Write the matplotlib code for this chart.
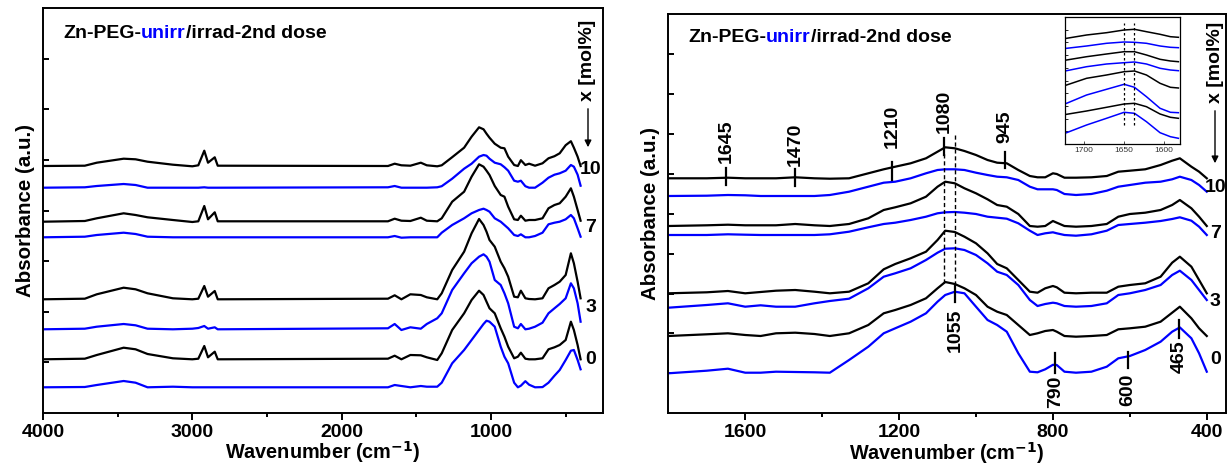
import numpy as np
import matplotlib
matplotlib.use("Agg")
import matplotlib.pyplot as plt

plt.rcParams['font.family'] = ['Liberation Sans', 'DejaVu Sans']
plt.rcParams['font.weight'] = 'bold'

# ---------------- Left panel data (wavenumber grid, offset absorbance a.u.) ----------------
wn_left = [4000, 3720, 3640, 3460, 3380, 3300, 3130, 3000, 2960, 2920, 2895, 2850, 2830,
           1690, 1645, 1600, 1540, 1470, 1430, 1360, 1330, 1260, 1180, 1130, 1080, 1050,
           1030, 1010, 975, 935, 910, 885, 845, 820, 800, 770, 745, 705, 655, 615, 575,
           540, 500, 465, 445, 420, 400]

irr10_L = [246.7, 247.0, 250.0, 254.0, 253.4, 251.0, 248.0, 246.4, 247.4, 262.0, 250.0, 255.4, 247.0,
           246.7, 249.0, 247.4, 247.0, 250.0, 247.4, 246.4, 247.4, 255.5, 265.0, 276.0, 285.4, 283.4,
           279.0, 275.0, 269.0, 265.0, 264.4, 256.0, 247.7, 246.7, 252.5, 247.7, 249.0, 247.0, 249.4, 254.4, 256.5,
           259.4, 267.5, 271.5, 265.0, 256.0, 246.7]
unirr10_L = [225.0, 225.4, 226.7, 228.7, 227.7, 225.0, 225.0, 225.0, 225.0, 225.4, 225.0, 225.0, 225.0,
             225.4, 226.7, 225.0, 225.0, 225.0, 225.0, 225.4, 226.5, 234.0, 244.0, 249.0, 256.0, 257.7,
             257.0, 254.0, 250.0, 248.4, 245.5, 242.0, 232.0, 231.0, 232.0, 226.5, 225.0, 225.0, 230.0, 235.0, 238.0,
             239.4, 242.0, 247.7, 246.0, 238.0, 227.0]
irr7_L = [191.0, 191.7, 194.4, 199.4, 197.7, 195.4, 192.7, 190.7, 191.4, 206.7, 193.4, 200.4, 191.4,
          191.4, 194.0, 192.0, 191.7, 195.0, 192.0, 191.4, 194.4, 211.0, 221.0, 236.0, 248.4, 246.0,
          242.0, 237.7, 226.7, 217.7, 216.0, 206.0, 193.4, 192.7, 197.0, 192.0, 192.7, 192.7, 194.4, 204.4, 207.7,
          209.4, 216.0, 224.4, 216.0, 202.7, 192.0]
unirr7_L = [175.4, 176.0, 177.7, 180.0, 178.7, 176.0, 175.4, 175.4, 175.4, 175.4, 175.4, 175.4, 175.4,
            175.4, 176.7, 175.0, 175.4, 175.4, 175.4, 175.4, 180.0, 187.7, 194.4, 199.4, 202.7, 204.0,
            202.7, 201.0, 194.4, 191.0, 187.7, 184.4, 177.7, 176.7, 178.4, 175.4, 175.4, 176.7, 180.0, 188.4, 190.0,
            191.0, 193.4, 197.7, 194.4, 184.4, 176.0]
irr3_L = [113.4, 114.0, 118.4, 125.0, 123.4, 119.4, 114.4, 113.4, 114.0, 126.7, 116.0, 121.7, 113.4,
          114.0, 117.4, 113.4, 118.4, 117.7, 115.4, 113.4, 119.4, 142.7, 161.0, 179.4, 193.7, 187.7,
          181.0, 172.7, 166.0, 151.0, 144.4, 136.0, 116.0, 115.4, 122.0, 114.4, 113.7, 113.4, 114.4, 124.4, 127.7,
          131.0, 137.7, 159.4, 149.4, 131.0, 114.4]
unirr3_L = [83.4, 84.0, 86.0, 88.7, 87.4, 84.0, 83.4, 84.0, 84.7, 86.7, 84.0, 85.4, 83.4,
            84.4, 88.7, 82.7, 85.4, 84.0, 88.7, 94.4, 99.4, 122.7, 139.4, 149.4, 156.0, 158.4,
            156.0, 151.0, 132.7, 127.7, 119.4, 109.4, 86.0, 84.4, 88.7, 83.4, 84.0, 86.0, 90.0, 99.4, 104.4,
            108.7, 114.4, 129.4, 124.4, 109.4, 91.0]
irr0_L = [53.4, 54.0, 57.7, 65.0, 63.4, 58.7, 54.4, 53.4, 54.0, 66.7, 55.4, 61.0, 53.4,
          54.0, 57.0, 53.4, 57.7, 57.4, 55.4, 52.7, 59.4, 82.7, 99.4, 112.7, 122.0, 117.7,
          111.0, 104.4, 99.4, 84.4, 76.0, 66.0, 54.4, 56.0, 60.0, 54.0, 53.4, 53.4, 54.4, 63.4, 65.4,
          67.7, 72.7, 91.0, 82.7, 67.7, 53.4]
unirr0_L = [25.4, 25.7, 27.7, 31.7, 30.0, 25.4, 26.0, 25.4, 25.4, 25.4, 25.4, 25.4, 25.4,
            25.4, 27.7, 26.7, 25.4, 26.7, 26.0, 26.0, 30.0, 49.4, 62.7, 72.7, 82.7, 88.7,
            92.0, 91.0, 86.0, 66.0, 56.0, 49.4, 30.0, 25.4, 27.0, 31.5, 28.0, 25.4, 25.6, 30.0, 37.0,
            42.7, 52.7, 62.0, 62.7, 52.7, 43.4]

# ---------------- Right panel data ----------------
wn_right = [1800, 1700, 1645, 1600, 1560, 1520, 1470, 1420, 1380, 1330, 1280, 1240, 1210, 1170,
            1130, 1100, 1080, 1055, 1030, 1000, 970, 945, 920, 890, 860, 840, 820, 800, 790,
            770, 740, 700, 660, 630, 600, 560, 520, 490, 470, 440, 420, 400]

irr10_R = [235.0, 235.0, 235.6, 235.0, 235.0, 235.0, 236.0, 235.0, 234.6, 235.0, 240.0, 244.0, 246.6, 250.0,
           255.0, 261.6, 266.0, 265.0, 262.3, 258.3, 253.3, 250.6, 250.0, 243.3, 237.3, 236.0, 236.0, 240.0, 239.3,
           235.6, 235.6, 236.0, 237.3, 241.6, 242.6, 244.0, 248.3, 252.6, 255.0, 246.6, 241.6, 235.0]
unirr10_R = [217.3, 217.6, 218.3, 218.0, 217.3, 217.3, 217.3, 217.3, 218.3, 221.6, 226.6, 230.6, 231.6, 235.0,
             240.0, 243.3, 244.0, 244.0, 243.3, 240.6, 238.3, 236.6, 236.0, 233.3, 226.6, 224.0, 224.0, 224.0, 223.3,
             219.3, 218.3, 219.3, 222.6, 226.6, 228.3, 230.6, 231.6, 234.0, 236.6, 233.3, 228.3, 221.6]
irr7_R = [187.3, 188.0, 188.6, 188.0, 188.0, 188.0, 189.3, 188.0, 187.3, 189.3, 195.0, 203.3, 206.0, 210.0,
          216.6, 226.6, 231.6, 230.0, 225.0, 220.0, 214.0, 208.3, 206.6, 199.3, 187.3, 186.6, 187.3, 192.3, 190.6,
          187.3, 186.6, 187.3, 189.3, 196.6, 199.3, 200.6, 203.3, 208.3, 213.3, 205.0, 196.6, 187.3]
unirr7_R = [178.3, 178.3, 179.0, 178.6, 178.3, 178.3, 178.3, 178.3, 179.0, 181.6, 186.0, 189.3, 190.6, 193.3,
            196.6, 200.0, 201.0, 201.3, 200.6, 199.3, 196.6, 195.6, 194.6, 190.0, 182.6, 178.3, 180.0, 181.0, 180.0,
            178.3, 177.6, 179.0, 182.6, 188.3, 189.3, 190.6, 192.3, 194.3, 196.0, 192.6, 186.6, 178.3]
irr3_R = [120.0, 121.0, 122.3, 120.0, 121.3, 122.6, 123.3, 121.6, 120.0, 121.6, 130.0, 144.0, 149.3, 155.0,
          161.6, 173.3, 182.6, 181.3, 176.6, 170.0, 160.0, 149.3, 145.0, 133.3, 121.6, 120.6, 125.0, 127.3, 126.0,
          120.6, 120.0, 120.6, 120.6, 126.6, 128.3, 130.0, 136.6, 150.6, 156.6, 146.6, 133.3, 120.0]
unirr3_R = [105.6, 108.3, 110.0, 106.6, 108.0, 106.6, 106.6, 110.0, 112.3, 114.6, 125.0, 136.6, 140.0, 145.0,
            153.3, 160.6, 164.6, 165.0, 163.3, 158.3, 150.0, 141.6, 138.3, 128.3, 113.3, 107.3, 109.3, 110.6, 110.0,
            107.3, 106.6, 107.3, 110.0, 118.3, 120.0, 123.3, 128.3, 138.3, 142.6, 133.3, 123.3, 113.3]
irr0_R = [77.3, 79.0, 80.0, 78.3, 77.3, 80.0, 80.6, 79.3, 77.3, 80.0, 88.3, 100.0, 103.3, 108.3,
          115.0, 125.0, 131.3, 129.3, 125.0, 118.3, 106.6, 101.6, 98.3, 88.3, 78.3, 80.0, 82.3, 83.3, 81.6,
          77.3, 76.6, 77.3, 78.3, 84.0, 85.0, 86.6, 91.6, 100.6, 106.6, 95.0, 85.0, 77.3]
unirr0_R = [40.0, 42.6, 44.6, 40.6, 40.6, 41.6, 41.3, 41.0, 40.6, 53.3, 66.6, 80.0, 85.0, 91.6,
            100.0, 111.6, 118.3, 121.6, 120.0, 106.6, 93.3, 88.3, 81.6, 60.0, 41.6, 41.0, 44.0, 48.5, 48.3,
            41.6, 40.6, 41.6, 46.6, 55.0, 57.3, 63.3, 71.6, 81.6, 85.9, 75.0, 60.0, 41.6]

# ---------------- Inset data (1725-1580 cm-1 zoom) ----------------
wn_inset = [1722, 1697, 1672, 1650, 1637, 1622, 1605, 1592, 1582]
inset_curves = [
    ("k", [105.7, 109.0, 111.3, 114.0, 114.7, 112.3, 109.7, 107.3, 106.7]),
    ("b", [95.7, 98.0, 100.7, 102.0, 101.7, 100.7, 98.0, 96.7, 96.3]),
    ("k", [84.0, 87.3, 90.0, 92.3, 92.3, 89.0, 84.7, 83.0, 82.3]),
    ("b", [73.3, 77.3, 80.0, 81.3, 82.0, 80.0, 75.7, 74.0, 73.3]),
    ("k", [59.0, 65.7, 69.0, 72.3, 73.0, 69.0, 60.7, 56.7, 56.0]),
    ("b", [40.7, 49.0, 54.7, 59.7, 56.7, 47.3, 35.7, 31.7, 31.3]),
    ("k", [29.7, 33.0, 36.7, 40.0, 40.7, 37.3, 30.0, 26.7, 25.7]),
    ("b", [11.3, 19.0, 25.7, 31.7, 30.7, 22.3, 11.3, 7.3, 5.7]),
]

doses = ["10", "7", "3", "0"]
left_label_y = [242.7, 185.7, 105.7, 52.7]
right_label_y = [225.3, 180.3, 111.3, 53.3]

# peak markers on right panel: (label, position, y0, y1, text anchor y, above?)
peak_marks = [("1645", 1650, 228, 245, 250, True),
              ("1470", 1470, 227, 244, 247, True),
              ("1210", 1218, 233, 251, 265, True),
              ("1080", 1083, 258, 275, 280, True),
              ("945", 925, 245, 261, 270, True),
              ("1055", 1055, 111, 128, 105, False),
              ("790", 794, 40, 60, 38, False),
              ("600", 606, 45, 61, 40, False),
              ("465", 471, 75, 93, 73, False)]

BLUE = "#0000ff"
LW = 1.6

fig = plt.figure(figsize=(12.27, 4.66), dpi=100)
W, H = 1227, 466

axL = fig.add_axes([43 / W, (H - 412.7) / H, 560 / W, 404.4 / H])
axR = fig.add_axes([668.3 / W, (H - 413.3) / H, 557.7 / W, 399.3 / H])

left_series = [(irr10_L, "k"), (unirr10_L, BLUE), (irr7_L, "k"), (unirr7_L, BLUE),
               (irr3_L, "k"), (unirr3_L, BLUE), (irr0_L, "k"), (unirr0_L, BLUE)]
right_series = [(irr10_R, "k"), (unirr10_R, BLUE), (irr7_R, "k"), (unirr7_R, BLUE),
                (irr3_R, "k"), (unirr3_R, BLUE), (irr0_R, "k"), (unirr0_R, BLUE)]

for vals, c in left_series:
    axL.plot(wn_left, vals, color=c, lw=LW, solid_joinstyle='round')
for vals, c in right_series:
    axR.plot(wn_right, vals, color=c, lw=LW, solid_joinstyle='round')

axL.set_xlim(4000, 250)
axL.set_ylim(0, 404.4)
axL.set_xticks([4000, 3000, 2000, 1000])
axL.set_xticks([3500, 2500, 1500, 500], minor=True)
axL.set_yticks(np.arange(0, 404, 50.55)[1:])

axR.set_xlim(1800, 350)
axR.set_ylim(0, 399.3)
axR.set_xticks([1600, 1200, 800, 400])
axR.set_xticks([1400, 1000, 600], minor=True)
axR.set_yticks(np.arange(0, 399, 39.93)[1:])

for ax in (axL, axR):
    for s in ax.spines.values():
        s.set_linewidth(1.4)
    ax.tick_params(axis='x', which='major', direction='out', length=5, width=1.4,
                   labelsize=14, pad=3)
    ax.tick_params(axis='x', which='minor', direction='out', length=3, width=1.4)
    ax.tick_params(axis='y', which='both', direction='in', length=4, width=1.4,
                   labelleft=False)
    for lab in ax.get_xticklabels():
        lab.set_fontweight('bold')
    ax.set_xlabel("Wavenumber (cm$^{\\mathbf{-1}}$)", fontsize=14.3, fontweight='bold', labelpad=-1)
    ax.set_ylabel("Absorbance (a.u.)", fontsize=14.8, fontweight='bold', labelpad=6)

# titles
for ax, fx, fy in ((axL, 63, 33), (axR, 688, 37)):
    t1 = fig.text(fx / W, 1 - fy / H, "Zn-PEG-", fontsize=14, fontweight='bold', va='center')
    fig.canvas.draw()
    bb = t1.get_window_extent()
    t2 = fig.text(bb.x1 / W, 1 - fy / H, "unirr", fontsize=14, fontweight='bold', va='center', color=BLUE)
    bb2 = t2.get_window_extent()
    fig.text(bb2.x1 / W, 1 - fy / H, "/irrad-2nd dose", fontsize=14, fontweight='bold', va='center')

# dose labels
for d, y in zip(doses, left_label_y):
    axL.text(333, y, d, fontsize=14, fontweight='bold', ha='center', va='center')
for d, y in zip(doses, right_label_y):
    axR.text(378, y, d, fontsize=14, fontweight='bold', ha='center', va='center', clip_on=False)

# x [mol%] labels with arrows
for tx, ty, ay0, ay1 in ((588, 60, 106, 150), (1215, 62, 108, 166)):
    fig.text(tx / W, 1 - ty / H, "x [mol%]", rotation=90, fontsize=14, fontweight='bold',
             ha='center', va='center')
    fig.add_artist(matplotlib.patches.FancyArrowPatch(
        (tx / W, 1 - ay0 / H), (tx / W, 1 - ay1 / H), transform=fig.transFigure,
        arrowstyle='-|>', mutation_scale=10, color='k', lw=1.0))

# peak markers and labels
for lab, x, y0, y1, ty, above in peak_marks:
    axR.plot([x, x], [y0, y1], color='k', lw=1.6)
    axR.text(x, ty, lab, rotation=90, fontsize=14, fontweight='bold', ha='center',
             va='bottom' if above else 'top')

# dashed lines
axR.plot([1083, 1083], [130, 260], color='k', lw=1.0, ls=(0, (3, 2)))
axR.plot([1055, 1055], [128, 279], color='k', lw=1.0, ls=(0, (3, 2)))

# inset
axI = fig.add_axes([1065 / W, (H - 144) / H, 115 / W, 127 / H])
for c, vals in inset_curves:
    axI.plot(wn_inset, vals, color=('k' if c == 'k' else BLUE), lw=1.1)
axI.set_xlim(1724, 1580)
axI.set_ylim(0, 127)
axI.set_xticks([1700, 1650, 1600])
axI.set_yticks(np.arange(0, 127, 12.7)[1:])
axI.tick_params(axis='x', direction='in', length=2, width=0.6, labelsize=6, pad=2,
                colors='#333333')
axI.tick_params(axis='y', direction='in', length=2, width=0.6, labelleft=False)
for lab in axI.get_xticklabels():
    lab.set_fontweight('normal')
for s in axI.spines.values():
    s.set_linewidth(0.9)
axI.plot([1650, 1650], [19, 121], color='k', lw=0.9, ls=(0, (2, 2)))
axI.plot([1637, 1637], [19, 121], color='k', lw=0.9, ls=(0, (2, 2)))

fig.savefig("out.png", dpi=100)
